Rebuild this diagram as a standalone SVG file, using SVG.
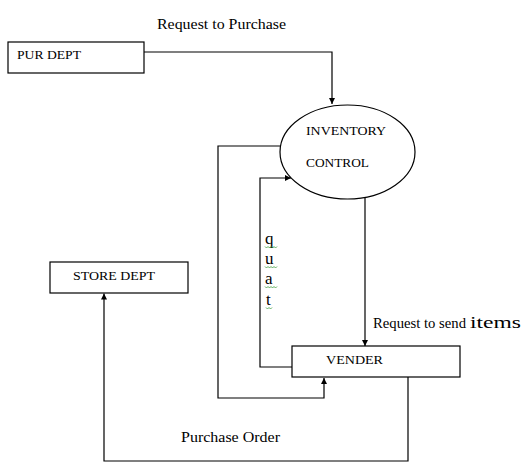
<svg xmlns="http://www.w3.org/2000/svg" width="526" height="468" viewBox="0 0 526 468">
<style>
.t{font-family:"Liberation Serif","Times New Roman",serif;fill:#000}
.n{fill:#fff;stroke:#000;stroke-width:1.2}
.c{fill:none;stroke:#000;stroke-width:1.2}
.sq{fill:none;stroke:#3a9a3a;stroke-width:0.8}
</style>
<defs>
<marker id="ah" viewBox="0 0 10 10" refX="10" refY="5" markerWidth="6" markerHeight="6" orient="auto" markerUnits="userSpaceOnUse">
<path d="M0,0 L10,5 L0,10 z" fill="#000"/>
</marker>
</defs>
<rect width="526" height="468" fill="#fff"/>
<g id="connectors">
<path class="c" d="M144 52 H332 V104" marker-end="url(#ah)"/>
<path class="c" d="M280.6 146 H218 V398 H324 V378" marker-end="url(#ah)"/>
<path class="c" d="M292 367 H260 V178 H291" marker-end="url(#ah)"/>
<path class="c" d="M365 197.5 V346" marker-end="url(#ah)"/>
<path class="c" d="M408 377 V461 H104 V293.5" marker-end="url(#ah)"/>
</g>
<g id="pur-dept">
<rect class="n" x="8" y="42" width="136" height="31"/>
<text class="t" x="17" y="59" font-size="13.5" textLength="64" lengthAdjust="spacingAndGlyphs">PUR DEPT</text>
</g>
<g id="inventory-control">
<ellipse class="n" cx="347.5" cy="152" rx="67.5" ry="47" stroke="#333"/>
<text class="t" x="306" y="135" font-size="13.5" textLength="80" lengthAdjust="spacingAndGlyphs">INVENTORY</text>
<text class="t" x="306" y="167" font-size="13.5" textLength="63" lengthAdjust="spacingAndGlyphs">CONTROL</text>
</g>
<g id="store-dept">
<rect class="n" x="50" y="262" width="138" height="31"/>
<text class="t" x="73" y="280" font-size="13.5" textLength="82" lengthAdjust="spacingAndGlyphs">STORE DEPT</text>
</g>
<g id="vender">
<rect class="n" x="292" y="346" width="168" height="31"/>
<text class="t" x="326" y="364" font-size="13.5" textLength="57" lengthAdjust="spacingAndGlyphs">VENDER</text>
</g>
<g id="labels">
<text class="t" x="157" y="29" font-size="15" textLength="129" lengthAdjust="spacingAndGlyphs">Request to Purchase</text>
<text class="t" x="373" y="328" font-size="14.5" textLength="93" lengthAdjust="spacingAndGlyphs">Request to send</text>
<text class="t" x="470" y="328" font-size="17" textLength="51" lengthAdjust="spacingAndGlyphs">items</text>
<text class="t" x="181" y="442" font-size="15" textLength="99" lengthAdjust="spacingAndGlyphs">Purchase Order</text>
<text class="t" x="265" y="244" font-size="17">q</text>
<text class="t" x="265" y="264" font-size="17">u</text>
<text class="t" x="265" y="284" font-size="17">a</text>
<text class="t" x="266" y="305" font-size="17">t</text>
<path class="sq" d="M265 246.5 l1.5 1.5 l1.5 -1.5 l1.5 1.5 l1.5 -1.5 l1.5 1.5 l1.5 -1.5 l1.5 1.5 l1.5 -1.5"/>
<path class="sq" d="M265 266.5 l1.5 1.5 l1.5 -1.5 l1.5 1.5 l1.5 -1.5 l1.5 1.5 l1.5 -1.5 l1.5 1.5 l1.5 -1.5"/>
<path class="sq" d="M265 286.5 l1.5 1.5 l1.5 -1.5 l1.5 1.5 l1.5 -1.5 l1.5 1.5 l1.5 -1.5 l1.5 1.5 l1.5 -1.5"/>
<path class="sq" d="M266 307.5 l1.5 1.5 l1.5 -1.5 l1.5 1.5 l1.5 -1.5"/>
</g>
</svg>
